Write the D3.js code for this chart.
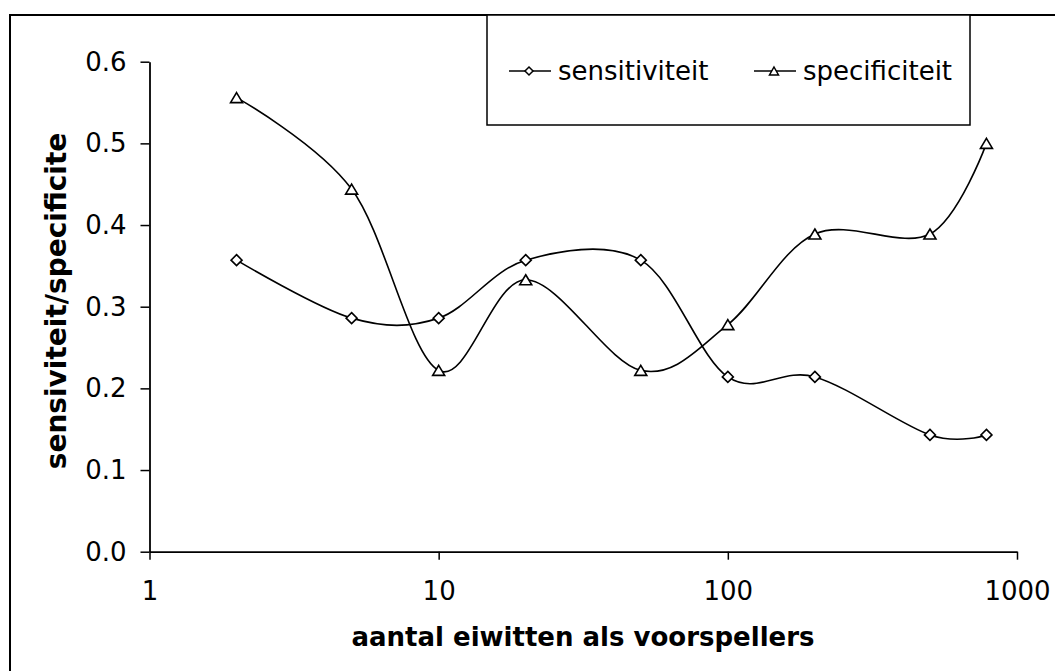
<!DOCTYPE html>
<html>
<head>
<meta charset="utf-8">
<script src="https://cdn.jsdelivr.net/npm/d3@7"></script>
<style>
  body { margin: 0; background: #fff; }
  text { font-family: "DejaVu Sans", Verdana, sans-serif; }
</style>
</head>
<body>
<div class="canvas"></div>
<script>
// data
const aantal = [2, 5, 10, 20, 50, 100, 200, 500, 784];
const sensitiviteit = [0.357, 0.286, 0.286, 0.357, 0.357, 0.214, 0.214, 0.143, 0.143];
const specificiteit = [0.556, 0.444, 0.222, 0.333, 0.222, 0.278, 0.389, 0.389, 0.5];
const xTicks = [1, 10, 100, 1000];
const yTicks = [0, 0.1, 0.2, 0.3, 0.4, 0.5, 0.6];

const width = 1055;
const height = 671;

const svg = d3.select('.canvas')
  .append('svg')
  .attr('width', width)
  .attr('height', height)
  .style('display', 'block');

svg.append('rect')
  .attr('width', width)
  .attr('height', height)
  .attr('fill', 'white');

// outer chart border (right and bottom edge fall outside the picture)
svg.append('rect')
  .attr('x', 10)
  .attr('y', 15)
  .attr('width', 1100)
  .attr('height', 700)
  .attr('fill', 'none')
  .attr('stroke', 'black')
  .attr('stroke-width', 2);

// scales
const x = d3.scaleLog()
  .domain([1, 1000])
  .range([149.5, 1017]);

const y = d3.scaleLinear()
  .domain([0, 0.6])
  .range([551.7, 61.7]);

// axes
const xAxis = d3.axisBottom(x)
  .tickValues(xTicks)
  .tickFormat(d3.format('d'))
  .tickSize(8)
  .tickSizeOuter(0)
  .tickPadding(22);

const yAxis = d3.axisLeft(y)
  .tickValues(yTicks)
  .tickFormat(d3.format('.1f'))
  .tickSize(9)
  .tickSizeOuter(0)
  .tickPadding(14);

const xAxisGroup = svg.append('g')
  .attr('transform', `translate(0, ${y(0)})`)
  .call(xAxis);

const yAxisGroup = svg.append('g')
  .attr('transform', `translate(${x(1)}, 0)`)
  .call(yAxis);

[xAxisGroup, yAxisGroup].forEach(g => {
  g.select('.domain').attr('stroke', 'black').attr('stroke-width', 1.8);
  g.selectAll('.tick line').attr('stroke', 'black').attr('stroke-width', 1.5);
  g.selectAll('text')
    .attr('fill', 'black')
    .style('font-size', '26px')
    .style('font-family', '"DejaVu Sans", Verdana, sans-serif');
});

// axis titles
svg.append('text')
  .attr('x', 583)
  .attr('y', 646)
  .attr('text-anchor', 'middle')
  .style('font-size', '26px')
  .style('font-weight', 'bold')
  .text('aantal eiwitten als voorspellers');

svg.append('text')
  .attr('transform', 'translate(66, 301) rotate(-90)')
  .attr('text-anchor', 'middle')
  .style('font-size', '28px')
  .style('font-weight', 'bold')
  .text('sensiviteit/specificite');

// markers
const diamond = r => `M0,${-r}L${r},0L0,${r}L${-r},0Z`;
const triangle = (w, h) => `M0,${-h / 2}L${w / 2},${h / 2}L${-w / 2},${h / 2}Z`;

const series = [
  { name: 'sensitiviteit', values: sensitiviteit, shape: diamond(5.5), small: diamond(4) },
  { name: 'specificiteit', values: specificiteit, shape: triangle(12, 10), small: triangle(9, 8) }
];

const line = d3.line()
  .x(d => x(d[0]))
  .y(d => y(d[1]))
  .curve(d3.curveCardinal.tension(0));

series.forEach(s => {
  const pts = aantal.map((a, i) => [a, s.values[i]]);

  svg.append('path')
    .datum(pts)
    .attr('d', line)
    .attr('fill', 'none')
    .attr('stroke', 'black')
    .attr('stroke-width', 1.6);

  svg.selectAll(null)
    .data(pts)
    .enter()
    .append('path')
    .attr('d', s.shape)
    .attr('transform', d => `translate(${x(d[0])}, ${y(d[1])})`)
    .attr('fill', 'white')
    .attr('stroke', 'black')
    .attr('stroke-width', 1.6);
});

// legend
const legend = svg.append('g');

legend.append('rect')
  .attr('x', 487)
  .attr('y', 15)
  .attr('width', 483)
  .attr('height', 110)
  .attr('fill', 'white')
  .attr('stroke', 'black')
  .attr('stroke-width', 1.5);

const legendX = [509, 754];

series.forEach((s, i) => {
  const lx = legendX[i];
  legend.append('line')
    .attr('x1', lx)
    .attr('x2', lx + 42)
    .attr('y1', 71)
    .attr('y2', 71)
    .attr('stroke', 'black')
    .attr('stroke-width', 1.5);

  legend.append('path')
    .attr('d', s.small)
    .attr('transform', `translate(${lx + 20}, 71)`)
    .attr('fill', 'white')
    .attr('stroke', 'black')
    .attr('stroke-width', 1.5);

  legend.append('text')
    .attr('x', lx + 49)
    .attr('y', 80)
    .style('font-size', '26px')
    .text(s.name);
});
</script>
</body>
</html>
